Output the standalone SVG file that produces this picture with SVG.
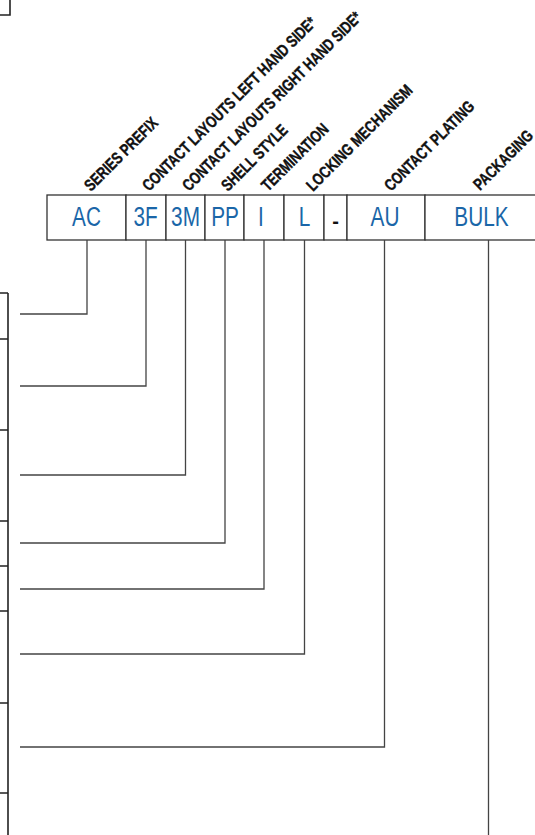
<svg xmlns="http://www.w3.org/2000/svg" width="535" height="835" viewBox="0 0 535 835">
<style>
.frame{fill:none;stroke:#222;stroke-width:1.6}
.box{fill:#fff;stroke:#333;stroke-width:1.3}
.code{font-family:"Liberation Sans",Arial,sans-serif;font-size:27px;fill:#1a66a8;text-anchor:middle}
.dash{font-family:"Liberation Sans",Arial,sans-serif;font-size:20px;font-weight:bold;fill:#111;text-anchor:middle}
.lbl{font-family:"Liberation Sans",Arial,sans-serif;font-size:16.5px;font-weight:bold;fill:#111;stroke:#111;stroke-width:0.4}
.conn{fill:none;stroke:#444;stroke-width:1.3}
</style>
<g id="table-edge">
<path class="frame" d="M10 0V15H0"/>
<path class="frame" d="M8 293V835M0 293H8M0 339H8M0 430H8M0 521H8M0 566H8M0 611H8M0 703H8M0 793H8"/>
</g>
<g id="labels">
<text class="lbl" transform="translate(91,192) rotate(-45) scale(0.77,1)">SERIES PREFIX</text>
<text class="lbl" transform="translate(149,192) rotate(-45) scale(0.77,1)">CONTACT LAYOUTS LEFT HAND SIDE*</text>
<text class="lbl" transform="translate(189,192) rotate(-45) scale(0.77,1)">CONTACT LAYOUTS RIGHT HAND SIDE*</text>
<text class="lbl" transform="translate(228,192) rotate(-45) scale(0.77,1)">SHELL STYLE</text>
<text class="lbl" transform="translate(268,192) rotate(-45) scale(0.77,1)">TERMINATION</text>
<text class="lbl" transform="translate(313,192) rotate(-45) scale(0.78,1)">LOCKING MECHANISM</text>
<text class="lbl" transform="translate(391,192) rotate(-45) scale(0.77,1)">CONTACT PLATING</text>
<text class="lbl" transform="translate(480,191) rotate(-45) scale(0.77,1)">PACKAGING</text>
</g>
<g id="code-boxes">
<g id="box-ac"><rect class="box" x="47" y="195" width="79" height="45"/><text class="code" transform="translate(86.5,226) scale(0.77,1)">AC</text></g>
<g id="box-3f"><rect class="box" x="126" y="195" width="40" height="45"/><text class="code" transform="translate(145.5,226) scale(0.77,1)">3F</text></g>
<g id="box-3m"><rect class="box" x="166" y="195" width="39" height="45"/><text class="code" transform="translate(185.5,226) scale(0.77,1)">3M</text></g>
<g id="box-pp"><rect class="box" x="205" y="195" width="39" height="45"/><text class="code" transform="translate(225,226) scale(0.77,1)">PP</text></g>
<g id="box-i"><rect class="box" x="244" y="195" width="40" height="45"/><text class="code" transform="translate(261,226) scale(0.77,1)">I</text></g>
<g id="box-l"><rect class="box" x="284" y="195" width="40" height="45"/><text class="code" transform="translate(304.5,226) scale(0.77,1)">L</text></g>
<g id="box-dash"><rect class="box" x="324" y="195" width="23" height="45"/><text class="dash" x="335.5" y="228">-</text></g>
<g id="box-au"><rect class="box" x="347" y="195" width="78" height="45"/><text class="code" transform="translate(385,226) scale(0.77,1)">AU</text></g>
<g id="box-bulk"><rect class="box" x="425" y="195" width="112" height="45"/><text class="code" transform="translate(481.5,226) scale(0.77,1)">BULK</text></g>
</g>
<g id="connectors">
<path class="conn" d="M87 240V314H20"/>
<path class="conn" d="M146 240V386H20"/>
<path class="conn" d="M185.5 240V475H20"/>
<path class="conn" d="M225 240V543H20"/>
<path class="conn" d="M264 240V589H20"/>
<path class="conn" d="M304.5 240V654H20"/>
<path class="conn" d="M384.5 240V747H20"/>
<path class="conn" d="M488.5 240V835"/>
</g>
</svg>
